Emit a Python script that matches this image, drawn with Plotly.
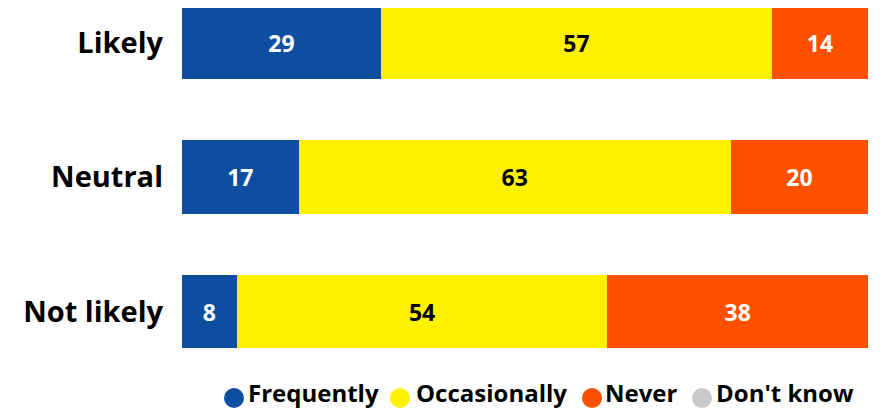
import plotly.graph_objects as go

categories = ["Likely", "Neutral", "Not likely"]
series_names = ["Frequently", "Occasionally", "Never", "Don't know"]
frequently = [29, 17, 8]
occasionally = [57, 63, 54]
never = [14, 20, 38]
dont_know = [0, 0, 0]

colors = ["#0D4EA1", "#FFF200", "#FF5000", "#C8C8C8"]
text_colors = ["white", "black", "white", "black"]
values = [frequently, occasionally, never, dont_know]

FONT = "Open Sans"
# plot area in pixels (inside the figure): left 174, width 686, top 0, height 370
PL, PW, PT, PH = 174, 686, 0, 370
legend_circle_px = [226, 392, 584, 694]   # circle centres (figure px)
legend_text_px = [239, 407, 596, 707]     # text left edges (figure px)
legend_circle_y = 390
legend_text_y = 384

def px_to_paper_x(px):
    return (px - PL) / PW

def px_to_paper_y(py):
    return (PT + PH - py) / PH

fig = go.Figure()
for name, vals, c, tc in zip(series_names, values, colors, text_colors):
    fig.add_trace(go.Bar(
        y=categories, x=vals, orientation="h", name=name,
        marker=dict(color=c, line=dict(width=0)),
        width=0.543,
        text=[str(v) if v else "" for v in vals],
        textposition="inside", insidetextanchor="middle",
        textfont=dict(family=FONT, size=23, color=tc, weight="bold"),
        showlegend=False, hoverinfo="skip",
    ))

# custom legend: circle + label per series
for name, c, cx, tx in zip(series_names, colors, legend_circle_px, legend_text_px):
    xa = px_to_paper_x(cx)
    ya = px_to_paper_y(legend_circle_y)
    fig.add_shape(
        type="circle", xref="paper", yref="paper",
        xsizemode="pixel", ysizemode="pixel", xanchor=xa, yanchor=ya,
        x0=-10, x1=10, y0=-10, y1=10,
        fillcolor=c, line=dict(width=0), layer="above",
    )
    fig.add_annotation(
        text=name, xref="paper", yref="paper",
        x=px_to_paper_x(tx), y=px_to_paper_y(legend_text_y),
        xanchor="left", yanchor="middle", showarrow=False,
        font=dict(family=FONT, size=24, color="black", weight="bold"),
        borderpad=0,
    )

fig.update_layout(
    barmode="stack",
    width=886, height=409,
    margin=dict(l=174, r=26, t=0, b=39),
    plot_bgcolor="white", paper_bgcolor="white",
    font=dict(family=FONT, color="black"),
    showlegend=False,
    xaxis=dict(range=[0, 100], visible=False, fixedrange=True, automargin=False),
    yaxis=dict(
        type="category", categoryorder="array", categoryarray=categories,
        range=[2.4944, -0.2565], showgrid=False, zeroline=False, showline=False,
        ticks="", ticklabelstandoff=18, automargin=False,
        tickfont=dict(family=FONT, size=29, color="black", weight="bold"),
    ),
)

fig.write_html("out.html")
